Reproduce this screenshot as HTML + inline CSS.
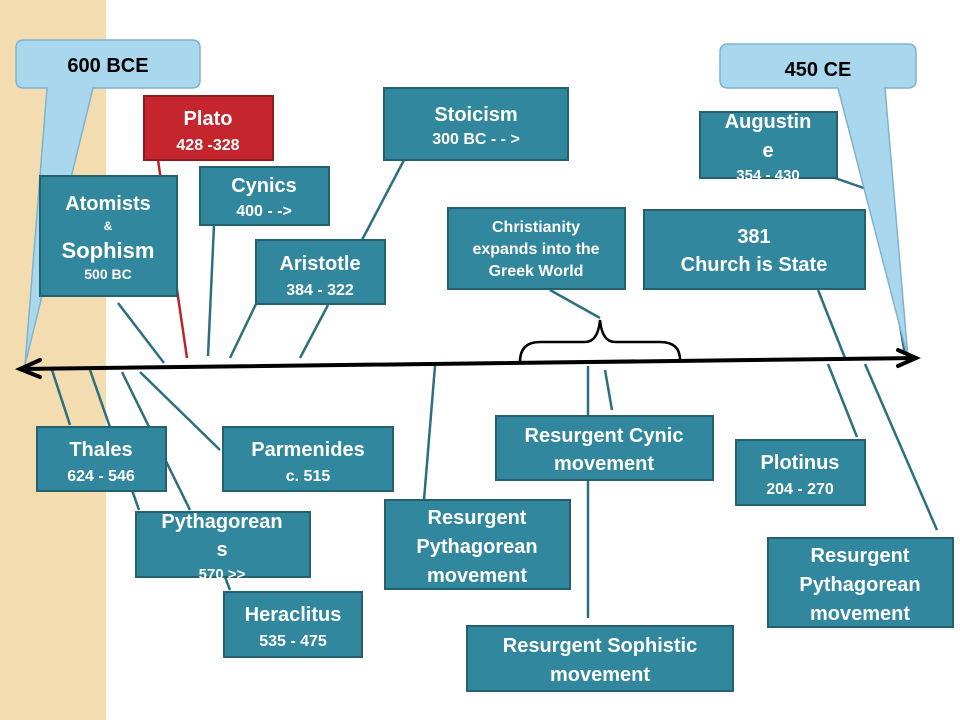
<!DOCTYPE html>
<html><head><meta charset="utf-8"><style>
html,body{margin:0;padding:0;background:#fff;}
svg{display:block;font-family:"Liberation Sans",Arial,sans-serif;font-weight:bold;}
</style></head><body>
<svg width="960" height="720" viewBox="0 0 960 720" xmlns="http://www.w3.org/2000/svg">
<rect x="0" y="0" width="106" height="720" fill="#f3dcb0"/>
<g stroke="#2c6f80" stroke-width="2.5" fill="none">
<line x1="158" y1="160" x2="187" y2="358" stroke="#b5262c"/>
<line x1="118" y1="303" x2="164" y2="363"/>
<line x1="214" y1="225" x2="208" y2="356"/>
<line x1="256" y1="304" x2="230" y2="358"/>
<line x1="404" y1="160" x2="362" y2="240"/>
<line x1="328" y1="305" x2="300" y2="358"/>
<line x1="52" y1="370" x2="70" y2="425"/>
<line x1="90" y1="370" x2="139" y2="510"/>
<line x1="122" y1="372" x2="190" y2="510"/>
<line x1="140" y1="372" x2="220" y2="450"/>
<line x1="225" y1="577" x2="230" y2="590"/>
<line x1="435" y1="366" x2="424" y2="500"/>
<line x1="588" y1="366" x2="588" y2="618"/>
<line x1="605" y1="370" x2="612" y2="410"/>
<line x1="550" y1="290" x2="600" y2="318"/>
<line x1="818" y1="290" x2="845" y2="358"/>
<polyline points="835,178 878,193 905,355"/>
<line x1="828" y1="364" x2="857" y2="437"/>
<line x1="865" y1="364" x2="937" y2="530"/>
</g>
<!-- callouts -->
<g fill="#a9d8ee" stroke="#7fb3cc" stroke-width="1.5">
<path d="M24,40 H192 Q200,40 200,48 V80 Q200,88 192,88 H93 L25,365 L47,88 H24 Q16,88 16,80 V48 Q16,40 24,40 Z"/>
<path d="M728,44 H908 Q916,44 916,52 V80 Q916,88 908,88 H885 L908,358 L838,88 H728 Q720,88 720,80 V52 Q720,44 728,44 Z"/>
</g>
<text x="108" y="72" font-size="20" text-anchor="middle" fill="#000">600 BCE</text>
<text x="818" y="76" font-size="20" text-anchor="middle" fill="#000">450 CE</text>
<!-- timeline -->
<g stroke="#000" stroke-width="4" fill="none" stroke-linecap="round">
<line x1="20" y1="369" x2="916" y2="358"/>
<polyline points="40,360 20,369 40,377"/>
<polyline points="898,350 916,358 898,366"/>
<path d="M520,362 Q520,342 540,342 H585 Q598,342 600,320 Q602,342 615,342 H660 Q680,342 680,360" stroke-width="2.5"/>
</g>
<!-- boxes -->
<g stroke="#25606f" stroke-width="2" fill="#31879e">
<rect x="144" y="96" width="129" height="64" fill="#c5262d" stroke="#8f1a1f"/>
<rect x="40" y="176" width="137" height="120"/>
<rect x="200" y="167" width="129" height="58"/>
<rect x="256" y="240" width="129" height="64"/>
<rect x="384" y="88" width="184" height="72"/>
<rect x="448" y="208" width="177" height="81"/>
<rect x="700" y="112" width="137" height="66"/>
<rect x="644" y="210" width="221" height="79"/>
<rect x="37" y="427" width="129" height="64"/>
<rect x="223" y="427" width="170" height="64"/>
<rect x="136" y="512" width="174" height="65"/>
<rect x="224" y="592" width="138" height="65"/>
<rect x="385" y="500" width="185" height="89"/>
<rect x="496" y="416" width="217" height="64"/>
<rect x="736" y="440" width="129" height="65"/>
<rect x="768" y="538" width="185" height="89"/>
<rect x="467" y="626" width="266" height="65"/>
</g>
<g fill="#fff" text-anchor="middle">
<text x="208" y="125" font-size="20">Plato</text><text x="208" y="150" font-size="16">428 -328</text>
<text x="108" y="210" font-size="20">Atomists</text><text x="108" y="230" font-size="12">&amp;</text>
<text x="108" y="258" font-size="22">Sophism</text><text x="108" y="279" font-size="14">500 BC</text>
<text x="264" y="192" font-size="20">Cynics</text><text x="264" y="216" font-size="16">400 - -&gt;</text>
<text x="320" y="270" font-size="20">Aristotle</text><text x="320" y="295" font-size="16">384 - 322</text>
<text x="476" y="121" font-size="20">Stoicism</text><text x="476" y="144" font-size="16">300 BC - - &gt;</text>
<text x="536" y="232" font-size="16">Christianity</text><text x="536" y="254" font-size="16">expands into the</text><text x="536" y="276" font-size="16">Greek World</text>
<text x="768" y="128" font-size="20">Augustin</text><text x="768" y="157" font-size="20">e</text><text x="768" y="180" font-size="15">354 - 430</text>
<text x="754" y="243" font-size="20">381</text><text x="754" y="271" font-size="20">Church is State</text>
<text x="101" y="456" font-size="20">Thales</text><text x="101" y="481" font-size="16">624 - 546</text>
<text x="308" y="456" font-size="20">Parmenides</text><text x="308" y="481" font-size="16">c. 515</text>
<text x="222" y="528" font-size="20">Pythagorean</text><text x="222" y="556" font-size="20">s</text><text x="222" y="579" font-size="15">570 &gt;&gt;</text>
<text x="293" y="621" font-size="20">Heraclitus</text><text x="293" y="646" font-size="16">535 - 475</text>
<text x="477" y="524" font-size="20">Resurgent</text><text x="477" y="553" font-size="20">Pythagorean</text><text x="477" y="582" font-size="20">movement</text>
<text x="604" y="442" font-size="20">Resurgent Cynic</text><text x="604" y="470" font-size="20">movement</text>
<text x="800" y="469" font-size="20">Plotinus</text><text x="800" y="494" font-size="16">204 - 270</text>
<text x="860" y="562" font-size="20">Resurgent</text><text x="860" y="591" font-size="20">Pythagorean</text><text x="860" y="620" font-size="20">movement</text>
<text x="600" y="652" font-size="20">Resurgent  Sophistic</text><text x="600" y="681" font-size="20">movement</text>
</g>
</svg>
</body></html>
